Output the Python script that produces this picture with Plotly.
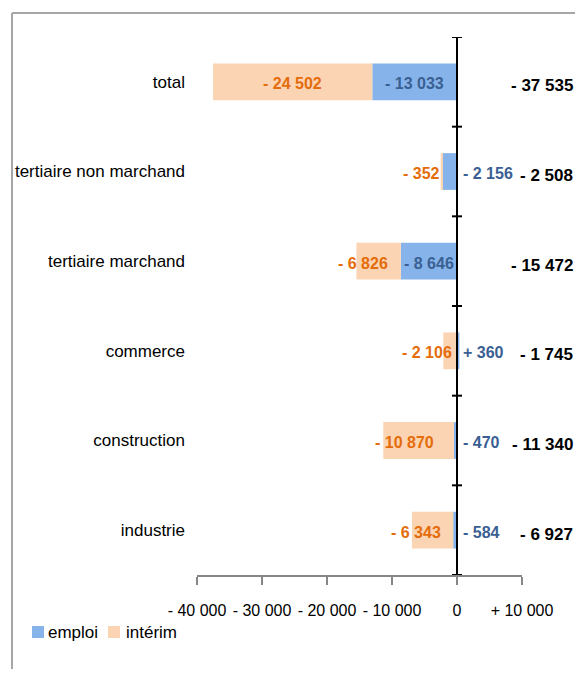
import plotly.graph_objects as go

categories = ["industrie", "construction", "commerce", "tertiaire marchand",
              "tertiaire non marchand", "total"]
emploi = [-584, -470, 360, -8646, -2156, -13033]
interim = [-6343, -10870, -2106, -6826, -352, -24502]
totals = [-6927, -11340, -1745, -15472, -2508, -37535]
tick_vals = [-40000, -30000, -20000, -10000, 0, 10000]
tick_text = ["- 40 000", "- 30 000", "- 20 000", "- 10 000", "0", "+ 10 000"]
series_names = ["emploi", "intérim"]

OFF = 8  # page body margin
W, H = 583 - 2 * OFF, 677 - 2 * OFF
L, T = 197 - OFF, 37 - OFF
R = W - (522 - OFF)
B = H - (575 - OFF)
FONT = "Liberation Sans Narrow, Arial Narrow, Liberation Sans, sans-serif"
BLUE = "#86B4EA"
PEACH = "#FBD4B4"
ORANGE = "#E46C0A"
DKBLUE = "#3A6093"


def fr(v):
    s = f"{abs(v):,}".replace(",", " ")
    return ("+ " if v > 0 else "- ") + s


def px_x(px):
    # reference page pixel -> paper x
    return (px - OFF - L) / (W - L - R)


def px_y(py):
    return (H - B - (py - OFF)) / (H - T - B)


fig = go.Figure()
fig.add_trace(go.Bar(y=categories, x=emploi, orientation="h", name=series_names[0],
                     marker=dict(color=BLUE, line=dict(width=0)), showlegend=False))
fig.add_trace(go.Bar(y=categories, x=interim, orientation="h", name=series_names[1],
                     marker=dict(color=PEACH, line=dict(width=0)), showlegend=False))

LBL = 16
ann = []
for c, e, i, t in zip(categories, emploi, interim, totals):
    if abs(e) > 5000:
        ann.append(dict(x=e / 2, y=c, text=f"<b>{fr(e)}</b>", showarrow=False,
                        xanchor="center", yshift=-2,
                        font=dict(color=DKBLUE, size=LBL, family=FONT)))
    else:
        ann.append(dict(x=0, y=c, text=f"<b>{fr(e)}</b>", showarrow=False,
                        xanchor="left", xshift=4, yshift=-2,
                        font=dict(color=DKBLUE, size=LBL, family=FONT)))
    base = min(e, 0)
    if abs(i) > 15000:
        ann.append(dict(x=base + i / 2, y=c, text=f"<b>{fr(i)}</b>", showarrow=False,
                        xanchor="center", yshift=-2,
                        font=dict(color=ORANGE, size=LBL, family=FONT)))
    else:
        ann.append(dict(x=base + i * 0.25, y=c, text=f"<b>{fr(i)}</b>", showarrow=False,
                        xanchor="right", yshift=-2,
                        font=dict(color=ORANGE, size=LBL, family=FONT)))
    ann.append(dict(x=px_x(575), xref="paper", y=c, text=f"<b>{fr(t)}</b>",
                    showarrow=False, xanchor="right", yshift=-4,
                    font=dict(color="black", size=17, family=FONT)))

shapes = [
    dict(type="line", xref="x", yref="paper", x0=0, x1=0, y0=0, y1=1,
         line=dict(color="black", width=2), layer="above"),
    dict(type="line", xref="paper", yref="paper",
         x0=px_x(12), x1=px_x(12), y0=px_y(13), y1=px_y(720),
         line=dict(color="#A6A6A6", width=2)),
    dict(type="line", xref="paper", yref="paper",
         x0=px_x(12), x1=px_x(620), y0=px_y(13), y1=px_y(13),
         line=dict(color="#A6A6A6", width=2)),
]
for k in range(len(categories) + 1):
    shapes.append(dict(type="line", xref="x", yref="y", xsizemode="pixel", xanchor=0,
                       x0=-5, x1=5, y0=k - 0.5, y1=k - 0.5,
                       line=dict(color="black", width=2), layer="above"))

legend_items = [(series_names[0], BLUE, 32, 46), (series_names[1], PEACH, 108, 124)]
for name, col, sx, tx in legend_items:
    shapes.append(dict(type="rect", xref="paper", yref="paper",
                       x0=px_x(sx), x1=px_x(sx + 12), y0=px_y(638), y1=px_y(626),
                       fillcolor=col, line=dict(width=0)))
    ann.append(dict(x=px_x(tx), xref="paper", y=px_y(632), yref="paper", text=name,
                    showarrow=False, xanchor="left", yanchor="middle",
                    font=dict(color="black", size=17, family=FONT)))

fig.update_layout(
    width=W, height=H,
    margin=dict(l=L, r=R, t=T, b=B, autoexpand=False),
    paper_bgcolor="white", plot_bgcolor="white",
    barmode="relative", bargap=0.59,
    showlegend=False,
    font=dict(family=FONT, size=17, color="black"),
    xaxis=dict(range=[-40000, 10000], tickvals=tick_vals, ticktext=tick_text,
               showgrid=False, zeroline=False, showline=True, linecolor="#868686",
               linewidth=1.5, ticks="outside", ticklen=8, tickcolor="#868686",
               tickwidth=1.5, ticklabelstandoff=12, tickangle=0, automargin=False,
               tickfont=dict(size=16, family=FONT, color="black")),
    yaxis=dict(range=[-0.5, 5.5], showgrid=False, zeroline=False, showline=False,
               ticks="", ticklabelstandoff=11, automargin=False,
               tickfont=dict(size=17, family=FONT, color="black")),
    annotations=ann,
    shapes=shapes,
)

fig.write_html("out.html")
